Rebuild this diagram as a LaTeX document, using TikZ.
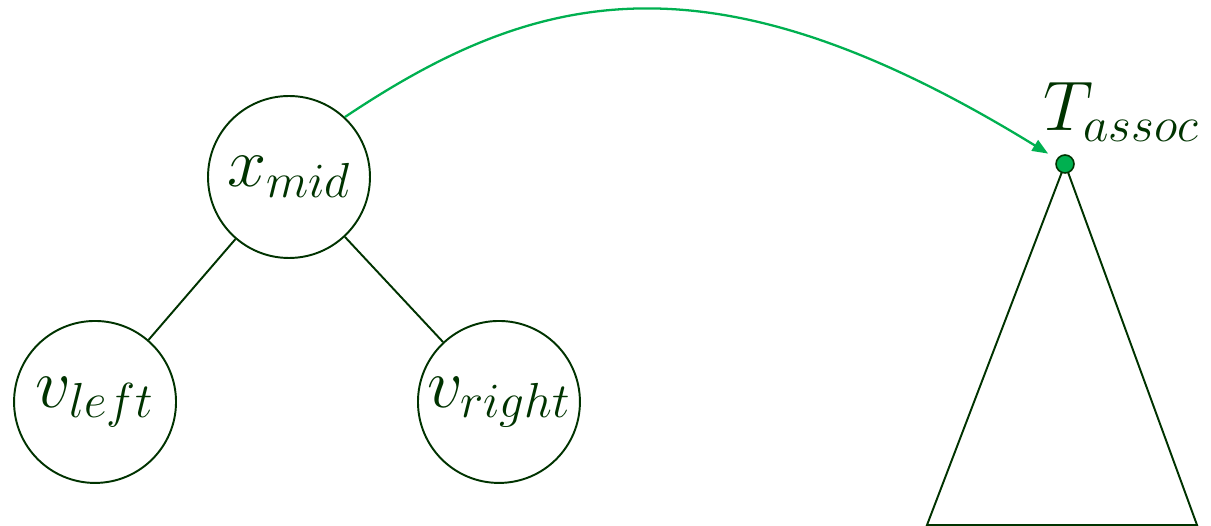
\RequirePackage{fix-cm}
\documentclass[tikz,border=0pt]{standalone}
\usepackage{xcolor}
\usepackage{tikz}
\usetikzlibrary{arrows.meta, positioning}
\definecolor{treegreen}{RGB}{0,51,0}
\definecolor{linkgreen}{RGB}{0,176,80}
\tikzstyle{treenode} = [
    circle, draw=treegreen, line width=1.1pt, text=treegreen,
    minimum size=3.24cm, inner sep=0pt, font=\fontsize{40}{44}\selectfont
]
\tikzstyle{treeedge} = [draw=treegreen, line width=1.1pt]
\tikzstyle{assoclink} = [line width=1.3pt, draw=linkgreen, -{Triangle[length=9pt,width=7pt]}, shorten >=0.2cm]

\begin{document}
\begin{tikzpicture}[x=0.02cm, y=-0.02cm, on grid]
    \useasboundingbox (0,0) rectangle (1211,526);
    \node [treenode] (xmid) at (289,177) {$x_{mid}$};
    \node [treenode, below left=4.5cm and 3.88cm of xmid] (vleft) {$v_{left}$};
    \node [treenode, below right=4.5cm and 4.2cm of xmid] (vright) {$v_{right}$};

    \path [treeedge] (xmid) -- (vleft);
    \path [treeedge] (xmid) -- (vright);

    \coordinate (apex) at (1065,164);
    \coordinate (baseleft) at (927,525);
    \coordinate (baseright) at (1197,525);
    \path [treeedge] (apex) -- (baseleft) -- (baseright) -- cycle;
    \node [circle, fill=linkgreen, draw=treegreen, line width=0.9pt,
           minimum size=0.36cm, inner sep=0pt] (tdot) at (apex) {};
    \node [text=treegreen, font=\fontsize{40}{44}\selectfont] (tassoc) at (1121,112) {$T_{assoc}$};

    \path [assoclink] (xmid.47) .. controls +(190,-127) and +(-356,-219) .. (tdot);
\end{tikzpicture}
\end{document}
